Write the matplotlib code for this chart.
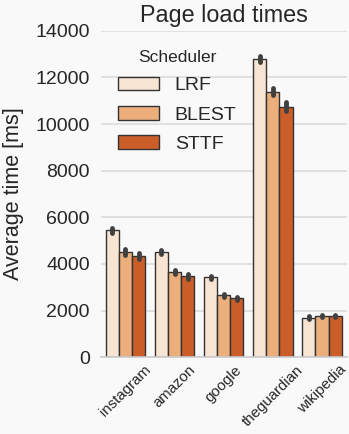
import matplotlib
matplotlib.use('Agg')
import matplotlib.pyplot as plt
import numpy as np

# data
sites = ['instagram', 'amazon', 'google', 'theguardian', 'wikipedia']
schedulers = ['LRF', 'BLEST', 'STTF']
lrf = [5450, 4520, 3430, 12780, 1700]
blest = [4520, 3650, 2650, 11390, 1760]
sttf = [4340, 3470, 2530, 10750, 1760]
lrf_err = [110, 90, 70, 130, 50]
blest_err = [130, 100, 80, 160, 50]
sttf_err = [120, 110, 70, 180, 50]
colors = ['#f8e4d3', '#ecaf7c', '#cb5d28']


def main():
    plt.rcParams['font.family'] = ['Liberation Sans', 'DejaVu Sans']
    plt.rcParams['text.color'] = '#262626'
    plt.rcParams['axes.labelcolor'] = '#262626'
    plt.rcParams['xtick.color'] = '#262626'
    plt.rcParams['ytick.color'] = '#262626'

    fig = plt.figure(figsize=(3.49, 4.34), dpi=100, facecolor='#f9f9f9')
    ax = fig.add_axes([0.289, 0.177, 0.704, 0.752])
    ax.set_facecolor('#f9f9f9')

    x = np.arange(len(sites))
    width = 0.8 / 3
    series = [lrf, blest, sttf]
    errs = [lrf_err, blest_err, sttf_err]
    for i, name in enumerate(schedulers):
        pos = x + (i - 1) * width
        ax.bar(pos, series[i], width, color=colors[i], edgecolor='#333333',
               linewidth=1.0, label=name, zorder=2)
        ax.vlines(pos, np.array(series[i]) - np.array(errs[i]),
                  np.array(series[i]) + np.array(errs[i]),
                  color='#404040', linewidth=3.5, capstyle='round', zorder=3)

    ax.set_xlim(-0.5, 4.5)
    ax.set_ylim(0, 14000)
    ax.set_yticks(range(0, 14001, 2000))
    ax.tick_params(axis='y', labelsize=14, length=0, pad=8)
    ax.tick_params(axis='x', length=0, pad=4)
    ax.set_xticks(x)
    ax.set_xticklabels(sites, rotation=45, ha='center', fontsize=10.8)
    ax.yaxis.grid(True, color='#dcdcdc', linewidth=1.2, zorder=0)
    ax.set_axisbelow(True)
    for s in ['top', 'right', 'left']:
        ax.spines[s].set_visible(False)
    ax.spines['bottom'].set_color('#cccccc')
    ax.spines['bottom'].set_linewidth(1.2)

    ax.set_ylabel('Average time [ms]', fontsize=15.5, labelpad=8)
    ax.set_title('Page load times', fontsize=16.8, pad=6)

    ax.legend(title='Scheduler', loc='upper left',
              bbox_to_anchor=(0.0, 0.995), frameon=False, fontsize=14,
              title_fontsize=12.5, handlelength=2.1, handleheight=0.7,
              labelspacing=0.6, handletextpad=0.8)

    fig.savefig('out.png', dpi=100, facecolor=fig.get_facecolor())


if __name__ == '__main__':
    main()
